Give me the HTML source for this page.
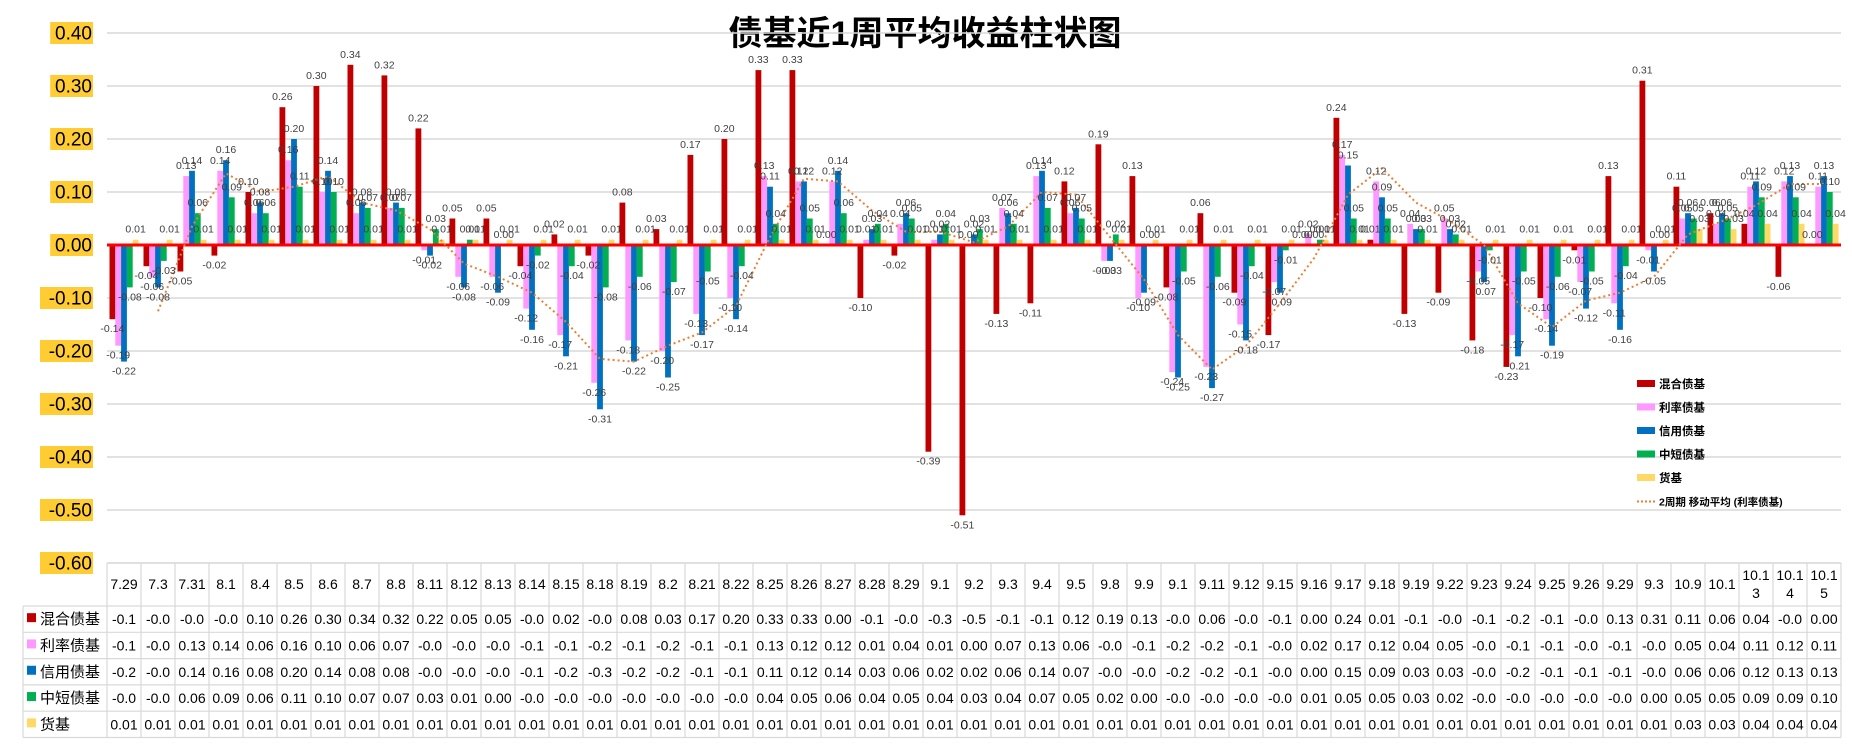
<!DOCTYPE html>
<html><head><meta charset="utf-8">
<style>
body{margin:0;background:#fff;}
svg{display:block;font-family:"Liberation Sans","Noto Sans CJK SC",sans-serif;}
</style></head>
<body>
<svg id="chart" width="1852" height="744" viewBox="0 0 1852 744" xmlns="http://www.w3.org/2000/svg">
<text x="925" y="45" text-anchor="middle" font-size="34" font-weight="bold" fill="#000" font-family="'Liberation Sans','Noto Sans CJK SC',sans-serif">债基近1周平均收益柱状图</text>
<g id="grid"></g><g id="bars"></g><g id="labels"></g><g id="table"></g><g id="legend"></g>
</svg>
<script>
const categories=["7.29","7.3","7.31","8.1","8.4","8.5","8.6","8.7","8.8","8.11","8.12","8.13","8.14","8.15","8.18","8.19","8.2","8.21","8.22","8.25","8.26","8.27","8.28","8.29","9.1","9.2","9.3","9.4","9.5","9.8","9.9","9.1","9.11","9.12","9.15","9.16","9.17","9.18","9.19","9.22","9.23","9.24","9.25","9.26","9.29","9.3","10.9","10.1","10.13","10.14","10.15"];
const mixed=[-0.14,-0.04,-0.05,-0.02,0.10,0.26,0.30,0.34,0.32,0.22,0.05,0.05,-0.04,0.02,-0.02,0.08,0.03,0.17,0.20,0.33,0.33,0.00,-0.10,-0.02,-0.39,-0.51,-0.13,-0.11,0.12,0.19,0.13,-0.08,0.06,-0.09,-0.17,0.00,0.24,0.01,-0.13,-0.09,-0.18,-0.23,-0.10,-0.01,0.13,0.31,0.11,0.06,0.04,-0.06,0.00];
const rate=[-0.19,-0.06,0.13,0.14,0.06,0.16,0.10,0.06,0.07,-0.01,-0.06,-0.06,-0.12,-0.17,-0.26,-0.18,-0.20,-0.13,-0.10,0.13,0.12,0.12,0.01,0.04,0.01,0.00,0.07,0.13,0.06,-0.03,-0.10,-0.24,-0.23,-0.15,-0.07,0.02,0.17,0.12,0.04,0.05,-0.05,-0.17,-0.14,-0.07,-0.11,-0.01,0.05,0.04,0.11,0.12,0.11];
const credit=[-0.22,-0.08,0.14,0.16,0.08,0.20,0.14,0.08,0.08,-0.02,-0.08,-0.09,-0.16,-0.21,-0.31,-0.22,-0.25,-0.17,-0.14,0.11,0.12,0.14,0.03,0.06,0.02,0.02,0.06,0.14,0.07,-0.03,-0.09,-0.25,-0.27,-0.18,-0.09,0.00,0.15,0.09,0.03,0.03,-0.07,-0.21,-0.19,-0.12,-0.16,-0.05,0.06,0.06,0.12,0.13,0.13];
const shortTerm=[-0.08,-0.03,0.06,0.09,0.06,0.11,0.10,0.07,0.07,0.03,0.01,0.00,-0.02,-0.04,-0.08,-0.06,-0.07,-0.05,-0.04,0.04,0.05,0.06,0.04,0.05,0.04,0.03,0.04,0.07,0.05,0.02,0.00,-0.05,-0.06,-0.04,-0.01,0.01,0.05,0.05,0.03,0.02,-0.01,-0.05,-0.06,-0.05,-0.04,0.00,0.05,0.05,0.09,0.09,0.10];
const money=[0.01,0.01,0.01,0.01,0.01,0.01,0.01,0.01,0.01,0.01,0.01,0.01,0.01,0.01,0.01,0.01,0.01,0.01,0.01,0.01,0.01,0.01,0.01,0.01,0.01,0.01,0.01,0.01,0.01,0.01,0.01,0.01,0.01,0.01,0.01,0.01,0.01,0.01,0.01,0.01,0.01,0.01,0.01,0.01,0.01,0.01,0.03,0.03,0.04,0.04,0.04];
const seriesNames=["混合债基","利率债基","信用债基","中短债基","货基"];
const yTicks=[0.4,0.3,0.2,0.1,0,-0.1,-0.2,-0.3,-0.4,-0.5,-0.6];

const NS="http://www.w3.org/2000/svg";
const colors=["#C00000","#FF99FF","#0070C0","#00B050","#FFD966"];
const series=[mixed,rate,credit,shortTerm,money];
const L=107,R=1841,colW=(R-L)/categories.length;
const yTop=33,yBot=563;
function y(v){return yTop+(0.4-v)/1.0*(yBot-yTop);}
function xc(i){return L+colW*(i+0.5);}
function mk(tag,attrs,parent,txt){const e=document.createElementNS(NS,tag);for(const k in attrs)e.setAttribute(k,attrs[k]);if(txt!==undefined)e.textContent=txt;parent.appendChild(e);return e;}
const grid=document.getElementById('grid'),bars=document.getElementById('bars'),labels=document.getElementById('labels'),table=document.getElementById('table'),legend=document.getElementById('legend');
yTicks.forEach(t=>{
  if(t!==0){const g=mk('line',{x1:L,x2:R,y1:y(t),y2:y(t),stroke:'#D9D9D9','stroke-width':1.5},grid);
  
  }
  const s=t.toFixed(2);const w=s.length*10.2+2;
  const bg=mk('rect',{x:93-w,y:y(t)-11,width:w,height:22,fill:'#FFCC33'},grid);
  
  
  const tx=mk('text',{x:92,y:y(t)+6.5,'text-anchor':'end','font-size':19,fill:'#000'},grid,s);
  
  
});
const bw=5.8,gap=0;
series.forEach((arr,si)=>{
  arr.forEach((v,i)=>{
    const x=xc(i)+(si-2)*(bw+gap)-bw/2;
    const y0=y(0),y1=y(v);
    const r=mk('rect',{x:x,y:Math.min(y0,y1),width:bw,height:Math.max(Math.abs(y1-y0),0.3),fill:colors[si]},bars);
    
    
    const ly=v>=0?y1-7:y1+13;
    const t=mk('text',{x:x+bw/2,y:ly,'text-anchor':'middle','font-size':10.5,fill:'#404040'},labels,v.toFixed(2));
    
    
  });
});
const zl=mk('line',{x1:L,x2:R,y1:y(0),y2:y(0),stroke:'#FF0000','stroke-width':3},bars);


let pts=[];
for(let i=1;i<rate.length;i++){pts.push(xc(i)+','+y((rate[i]+rate[i-1])/2));}
const ma=mk('polyline',{points:pts.join(' '),fill:'none',stroke:'#ED7D31','stroke-width':2,'stroke-dasharray':'2,3'},bars);


const hT=563,hB=606,rowH=26.3;
const tl=mk('g',{stroke:'#D9D9D9','stroke-width':1.2,fill:'none'},table);
mk('line',{x1:L,x2:R,y1:hT,y2:hT},tl);
for(let r=0;r<=5;r++){mk('line',{x1:23,x2:R,y1:hB+r*rowH,y2:hB+r*rowH},tl);}
mk('line',{x1:23,x2:23,y1:hB,y2:hB+5*rowH},tl);
for(let i=0;i<=categories.length;i++){mk('line',{x1:L+i*colW,x2:L+i*colW,y1:hT,y2:hB+5*rowH},tl);}
categories.forEach((c,i)=>{
  let t;
  if(c.length>4){
    t=mk('text',{x:xc(i),y:580,'text-anchor':'middle','font-size':14,fill:'#000'},table);
    mk('tspan',{x:xc(i),dy:0},t,c.slice(0,4));
    mk('tspan',{x:xc(i),dy:18},t,c.slice(4));
  } else t=mk('text',{x:xc(i),y:589,'text-anchor':'middle','font-size':14,fill:'#000'},table,c);
  
  
});
series.forEach((arr,si)=>{
  const cy=hB+si*rowH+rowH/2+5;
  const sq=mk('rect',{x:27,y:cy-11,width:9,height:9,fill:colors[si]},table);
  
  
  const nm=mk('text',{x:40,y:cy,'font-size':15,fill:'#000'},table,seriesNames[si]);
  
  
  arr.forEach((v,i)=>{
    const s=v.toFixed(2).slice(0,4);
    const t=mk('text',{x:xc(i),y:cy,'text-anchor':'middle','font-size':14,fill:'#000'},table,s);
    
    
  });
});
const lx=1637;
seriesNames.forEach((n,si)=>{
  const ly=384+si*23.5;
  const r=mk('rect',{x:lx,y:ly-4,width:18,height:7,fill:colors[si]},legend);
  
  
  const t=mk('text',{x:lx+22,y:ly+4,'font-size':11.5,'font-weight':'bold',fill:'#000'},legend,n);
  
  
});
const mly=384+5*23.5;
const ml=mk('line',{x1:lx,x2:lx+18,y1:mly,y2:mly,stroke:'#ED7D31','stroke-width':2,'stroke-dasharray':'2,2'},legend);


const mt=mk('text',{x:lx+22,y:mly+4,'font-size':10.5,'font-weight':'bold',fill:'#000'},legend,'2周期 移动平均 (利率债基)');


</script>
</body></html>
